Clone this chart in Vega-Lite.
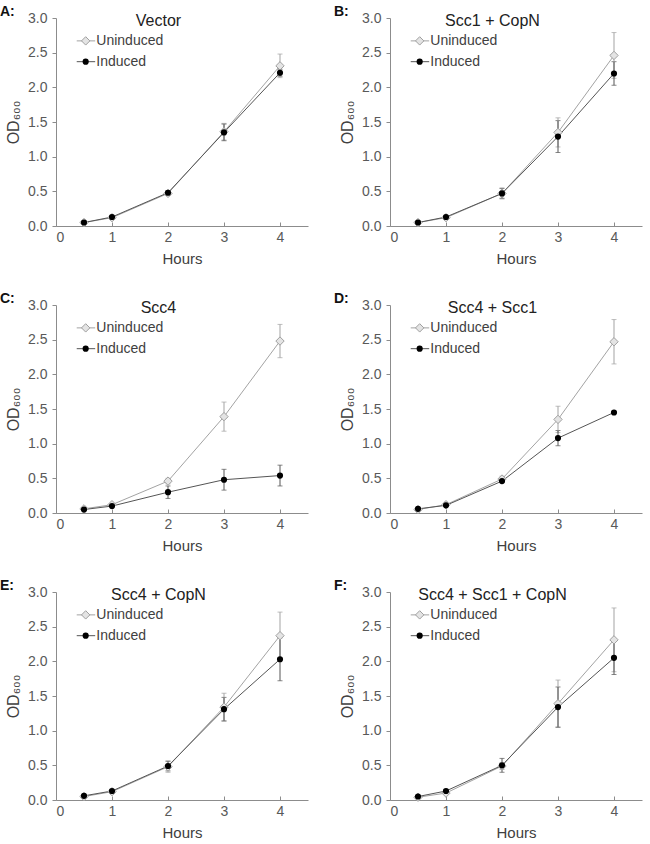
{
  "$schema": "https://vega.github.io/schema/vega-lite/v6.json",
  "background": "white",
  "padding": {"left": 0, "top": 4, "right": 2, "bottom": 4},
  "data": {"values": [
    {"panel":"A:","title":"Vector","series":"Uninduced","hours":0.5,"od":0.05,"err":0.01},
    {"panel":"A:","title":"Vector","series":"Uninduced","hours":1,"od":0.12,"err":0.02},
    {"panel":"A:","title":"Vector","series":"Uninduced","hours":2,"od":0.47,"err":0.03},
    {"panel":"A:","title":"Vector","series":"Uninduced","hours":3,"od":1.36,"err":0.12},
    {"panel":"A:","title":"Vector","series":"Uninduced","hours":4,"od":2.31,"err":0.17},
    {"panel":"A:","title":"Vector","series":"Induced","hours":0.5,"od":0.05,"err":0.01},
    {"panel":"A:","title":"Vector","series":"Induced","hours":1,"od":0.13,"err":0.02},
    {"panel":"A:","title":"Vector","series":"Induced","hours":2,"od":0.48,"err":0.03},
    {"panel":"A:","title":"Vector","series":"Induced","hours":3,"od":1.35,"err":0.12},
    {"panel":"A:","title":"Vector","series":"Induced","hours":4,"od":2.21,"err":0.05},
    {"panel":"B:","title":"Scc1 + CopN","series":"Uninduced","hours":0.5,"od":0.05,"err":0.01},
    {"panel":"B:","title":"Scc1 + CopN","series":"Uninduced","hours":1,"od":0.12,"err":0.02},
    {"panel":"B:","title":"Scc1 + CopN","series":"Uninduced","hours":2,"od":0.47,"err":0.08},
    {"panel":"B:","title":"Scc1 + CopN","series":"Uninduced","hours":3,"od":1.35,"err":0.21},
    {"panel":"B:","title":"Scc1 + CopN","series":"Uninduced","hours":4,"od":2.46,"err":0.33},
    {"panel":"B:","title":"Scc1 + CopN","series":"Induced","hours":0.5,"od":0.05,"err":0.01},
    {"panel":"B:","title":"Scc1 + CopN","series":"Induced","hours":1,"od":0.13,"err":0.02},
    {"panel":"B:","title":"Scc1 + CopN","series":"Induced","hours":2,"od":0.47,"err":0.07},
    {"panel":"B:","title":"Scc1 + CopN","series":"Induced","hours":3,"od":1.29,"err":0.23},
    {"panel":"B:","title":"Scc1 + CopN","series":"Induced","hours":4,"od":2.2,"err":0.17},
    {"panel":"C:","title":"Scc4","series":"Uninduced","hours":0.5,"od":0.06,"err":0.01},
    {"panel":"C:","title":"Scc4","series":"Uninduced","hours":1,"od":0.12,"err":0.01},
    {"panel":"C:","title":"Scc4","series":"Uninduced","hours":2,"od":0.46,"err":0.04},
    {"panel":"C:","title":"Scc4","series":"Uninduced","hours":3,"od":1.39,"err":0.21},
    {"panel":"C:","title":"Scc4","series":"Uninduced","hours":4,"od":2.48,"err":0.24},
    {"panel":"C:","title":"Scc4","series":"Induced","hours":0.5,"od":0.05,"err":0.01},
    {"panel":"C:","title":"Scc4","series":"Induced","hours":1,"od":0.1,"err":0.01},
    {"panel":"C:","title":"Scc4","series":"Induced","hours":2,"od":0.3,"err":0.09},
    {"panel":"C:","title":"Scc4","series":"Induced","hours":3,"od":0.48,"err":0.15},
    {"panel":"C:","title":"Scc4","series":"Induced","hours":4,"od":0.54,"err":0.15},
    {"panel":"D:","title":"Scc4 + Scc1","series":"Uninduced","hours":0.5,"od":0.05,"err":0.01},
    {"panel":"D:","title":"Scc4 + Scc1","series":"Uninduced","hours":1,"od":0.12,"err":0.01},
    {"panel":"D:","title":"Scc4 + Scc1","series":"Uninduced","hours":2,"od":0.49,"err":0.04},
    {"panel":"D:","title":"Scc4 + Scc1","series":"Uninduced","hours":3,"od":1.35,"err":0.19},
    {"panel":"D:","title":"Scc4 + Scc1","series":"Uninduced","hours":4,"od":2.47,"err":0.32},
    {"panel":"D:","title":"Scc4 + Scc1","series":"Induced","hours":0.5,"od":0.06,"err":0.01},
    {"panel":"D:","title":"Scc4 + Scc1","series":"Induced","hours":1,"od":0.11,"err":0.01},
    {"panel":"D:","title":"Scc4 + Scc1","series":"Induced","hours":2,"od":0.46,"err":0.02},
    {"panel":"D:","title":"Scc4 + Scc1","series":"Induced","hours":3,"od":1.08,"err":0.11},
    {"panel":"D:","title":"Scc4 + Scc1","series":"Induced","hours":4,"od":1.45,"err":0.01},
    {"panel":"E:","title":"Scc4 + CopN","series":"Uninduced","hours":0.5,"od":0.05,"err":0.01},
    {"panel":"E:","title":"Scc4 + CopN","series":"Uninduced","hours":1,"od":0.12,"err":0.02},
    {"panel":"E:","title":"Scc4 + CopN","series":"Uninduced","hours":2,"od":0.48,"err":0.08},
    {"panel":"E:","title":"Scc4 + CopN","series":"Uninduced","hours":3,"od":1.34,"err":0.2},
    {"panel":"E:","title":"Scc4 + CopN","series":"Uninduced","hours":4,"od":2.37,"err":0.34},
    {"panel":"E:","title":"Scc4 + CopN","series":"Induced","hours":0.5,"od":0.06,"err":0.01},
    {"panel":"E:","title":"Scc4 + CopN","series":"Induced","hours":1,"od":0.13,"err":0.02},
    {"panel":"E:","title":"Scc4 + CopN","series":"Induced","hours":2,"od":0.49,"err":0.07},
    {"panel":"E:","title":"Scc4 + CopN","series":"Induced","hours":3,"od":1.31,"err":0.17},
    {"panel":"E:","title":"Scc4 + CopN","series":"Induced","hours":4,"od":2.03,"err":0.31},
    {"panel":"F:","title":"Scc4 + Scc1 + CopN","series":"Uninduced","hours":0.5,"od":0.04,"err":0.01},
    {"panel":"F:","title":"Scc4 + Scc1 + CopN","series":"Uninduced","hours":1,"od":0.1,"err":0.02},
    {"panel":"F:","title":"Scc4 + Scc1 + CopN","series":"Uninduced","hours":2,"od":0.49,"err":0.05},
    {"panel":"F:","title":"Scc4 + Scc1 + CopN","series":"Uninduced","hours":3,"od":1.39,"err":0.34},
    {"panel":"F:","title":"Scc4 + Scc1 + CopN","series":"Uninduced","hours":4,"od":2.31,"err":0.46},
    {"panel":"F:","title":"Scc4 + Scc1 + CopN","series":"Induced","hours":0.5,"od":0.05,"err":0.01},
    {"panel":"F:","title":"Scc4 + Scc1 + CopN","series":"Induced","hours":1,"od":0.13,"err":0.02},
    {"panel":"F:","title":"Scc4 + Scc1 + CopN","series":"Induced","hours":2,"od":0.5,"err":0.1},
    {"panel":"F:","title":"Scc4 + Scc1 + CopN","series":"Induced","hours":3,"od":1.34,"err":0.29},
    {"panel":"F:","title":"Scc4 + Scc1 + CopN","series":"Induced","hours":4,"od":2.05,"err":0.24}
  ]},
  "facet": {"field": "panel", "type": "nominal", "title": null,
            "header": {"labels": false, "title": null, "labelExpr": "''", "labelFontSize": 1, "labelPadding": 0}},
  "columns": 2,
  "spacing": {"row": 79, "column": 82},
  "bounds": "flush",
  "resolve": {"axis": {"x": "independent", "y": "independent"}},
  "spec": {
    "width": 252,
    "height": 208,
    "encoding": {
      "x": {"field": "hours", "type": "quantitative", "title": "Hours",
            "scale": {"domain": [0, 4.5], "nice": false, "zero": true},
            "axis": {"values": [0, 1, 2, 3, 4], "format": "d", "titlePadding": 7, "tickSize": -4, "labelPadding": 8}},
      "y": {"field": "od", "type": "quantitative", "title": "OD₆₀₀",
            "scale": {"domain": [0, 3], "nice": false},
            "axis": {"values": [0, 0.5, 1, 1.5, 2, 2.5, 3], "format": ".1f", "titlePadding": 6, "labelPadding": 5, "titleFontSize": 16}}
    },
    "layer": [
      {
        "mark": {"type": "line", "strokeWidth": 1},
        "encoding": {
          "color": {"field": "series", "type": "nominal",
                    "scale": {"domain": ["Uninduced", "Induced"], "range": ["#a3a3a3", "#555555"]},
                    "legend": null}
        }
      },
      {
        "mark": {"type": "errorbar", "ticks": true, "thickness": 1},
        "encoding": {
          "yError": {"field": "err"},
          "color": {"field": "series", "type": "nominal", "legend": null}
        }
      },
      {
        "transform": [{"filter": "datum.series === 'Uninduced'"}],
        "mark": {"type": "point", "shape": "diamond", "filled": true, "fill": "#e4e4e4", "stroke": "#a0a0a0", "strokeWidth": 1, "size": 70, "opacity": 1}
      },
      {
        "transform": [{"filter": "datum.series === 'Induced'"}],
        "mark": {"type": "point", "shape": "circle", "filled": true, "fill": "#000000", "size": 38, "opacity": 1}
      },
      {
        "transform": [{"filter": "datum.series === 'Uninduced' && datum.hours === 4"}],
        "mark": {"type": "text", "fontSize": 16, "color": "#222222", "align": "center", "baseline": "middle", "dy": 3},
        "encoding": {"x": {"datum": 1.83}, "y": {"datum": 3.0}, "text": {"field": "title"}}
      },
      {
        "transform": [{"filter": "datum.series === 'Uninduced' && datum.hours === 4"}],
        "mark": {"type": "text", "fontSize": 14, "fontWeight": "bold", "color": "#111111", "align": "left", "baseline": "middle", "dy": -6},
        "encoding": {"x": {"datum": -1.0}, "y": {"datum": 3.0}, "text": {"field": "panel"}}
      },
      {
        "transform": [{"filter": "datum.series === 'Uninduced' && datum.hours === 4"}],
        "mark": {"type": "rule", "color": "#a3a3a3", "strokeWidth": 1},
        "encoding": {"x": {"datum": 0.37}, "x2": {"datum": 0.7}, "y": {"datum": 2.67}}
      },
      {
        "transform": [{"filter": "datum.series === 'Uninduced' && datum.hours === 4"}],
        "mark": {"type": "point", "shape": "diamond", "filled": true, "fill": "#e4e4e4", "stroke": "#a0a0a0", "strokeWidth": 1, "size": 70, "opacity": 1},
        "encoding": {"x": {"datum": 0.53}, "y": {"datum": 2.67}}
      },
      {
        "transform": [{"filter": "datum.series === 'Uninduced' && datum.hours === 4"}],
        "mark": {"type": "text", "fontSize": 14, "color": "#404040", "align": "left", "baseline": "middle"},
        "encoding": {"x": {"datum": 0.72}, "y": {"datum": 2.67}, "text": {"field": "series"}}
      },
      {
        "transform": [{"filter": "datum.series === 'Induced' && datum.hours === 4"}],
        "mark": {"type": "rule", "color": "#555555", "strokeWidth": 1},
        "encoding": {"x": {"datum": 0.37}, "x2": {"datum": 0.7}, "y": {"datum": 2.37}}
      },
      {
        "transform": [{"filter": "datum.series === 'Induced' && datum.hours === 4"}],
        "mark": {"type": "point", "shape": "circle", "filled": true, "fill": "#000000", "size": 38, "opacity": 1},
        "encoding": {"x": {"datum": 0.53}, "y": {"datum": 2.37}}
      },
      {
        "transform": [{"filter": "datum.series === 'Induced' && datum.hours === 4"}],
        "mark": {"type": "text", "fontSize": 14, "color": "#404040", "align": "left", "baseline": "middle"},
        "encoding": {"x": {"datum": 0.72}, "y": {"datum": 2.37}, "text": {"field": "series"}}
      }
    ]
  },
  "config": {
    "font": "Liberation Sans",
    "view": {"stroke": null},
    "header": {"labels": false, "title": null},
    "headerFacet": {"labels": false, "title": null},
    "axis": {
      "grid": false,
      "domainColor": "#8c8c8c",
      "tickColor": "#8c8c8c",
      "tickSize": 4,
      "labelColor": "#595959",
      "labelFont": "Liberation Sans",
      "labelFontSize": 14,
      "titleFont": "Liberation Sans",
      "titleColor": "#404040",
      "titleFontSize": 15,
      "titleFontWeight": "normal"
    }
  }
}
